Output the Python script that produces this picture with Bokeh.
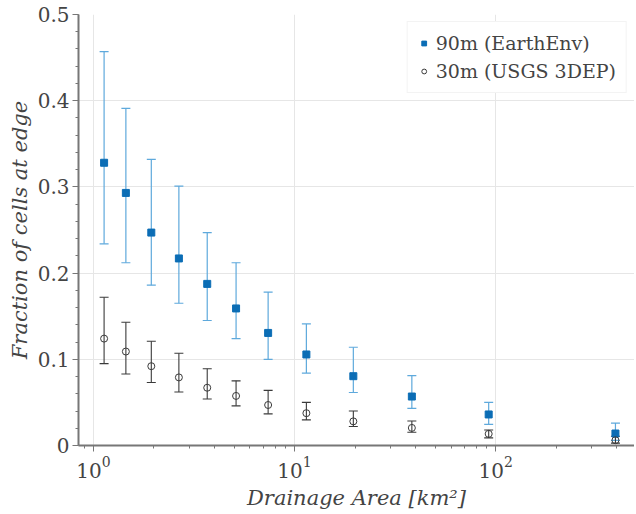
from bokeh.plotting import figure
from bokeh.models import (ColumnDataSource, Whisker, TeeHead, Range1d, SingleIntervalTicker,
                          Legend, LegendItem)
from bokeh.embed import file_html
from bokeh.resources import INLINE

# ---- data ----
area = [1.13, 1.45, 1.94, 2.66, 3.68, 5.12, 7.39, 11.45, 19.6, 38.3, 92.3, 394.0]

frac_90 = [0.328, 0.293, 0.247, 0.217, 0.1875, 0.159, 0.1306, 0.1056, 0.0804, 0.0568, 0.036, 0.0139]
up_90 = [0.457, 0.391, 0.332, 0.301, 0.247, 0.212, 0.178, 0.141, 0.114, 0.081, 0.050, 0.026]
lo_90 = [0.234, 0.212, 0.186, 0.165, 0.145, 0.124, 0.100, 0.084, 0.0615, 0.043, 0.0244, 0.006]

frac_30 = [0.124, 0.109, 0.092, 0.079, 0.067, 0.0575, 0.047, 0.0375, 0.028, 0.0204, 0.0135, 0.0061]
up_30 = [0.172, 0.143, 0.121, 0.107, 0.089, 0.075, 0.064, 0.050, 0.040, 0.0285, 0.018, 0.0108]
lo_30 = [0.095, 0.083, 0.073, 0.062, 0.054, 0.046, 0.0367, 0.0297, 0.022, 0.0154, 0.0088, 0.0027]

labels = ["90m (EarthEnv)", "30m (USGS 3DEP)"]
x_title = "Drainage Area [km²]"
y_title = "Fraction of cells at edge"

FONT = "DejaVu Serif"
TXT = "#444444"
AX = "#777777"

p = figure(x_axis_type="log", output_backend="svg", toolbar_location=None,
           frame_width=556, frame_height=431,
           x_range=Range1d(0.843, 490), y_range=Range1d(0, 0.5),
           min_border_left=78, min_border_top=14, min_border_right=0, min_border_bottom=60)
p.outline_line_color = None
p.background_fill_color = "white"

src90 = ColumnDataSource(dict(x=area, y=frac_90, upper=up_90, lower=lo_90))
src30 = ColumnDataSource(dict(x=area, y=frac_30, upper=up_30, lower=lo_30))

blue_err = "#5ea9dc"
w90 = Whisker(source=src90, base="x", upper="upper", lower="lower",
              line_color=blue_err, line_width=1.2,
              upper_head=TeeHead(size=9, line_color=blue_err, line_width=1.2),
              lower_head=TeeHead(size=9, line_color=blue_err, line_width=1.2))
w30 = Whisker(source=src30, base="x", upper="upper", lower="lower",
              line_color="#3a3a3a", line_width=1.1,
              upper_head=TeeHead(size=9, line_color="#3a3a3a", line_width=1.1),
              lower_head=TeeHead(size=9, line_color="#3a3a3a", line_width=1.1))
p.add_layout(w90)
p.add_layout(w30)

r90 = p.scatter("x", "y", source=src90, marker="square", size=7,
                fill_color="#0b6db5", line_color="#0b6db5")
r30 = p.scatter("x", "y", source=src30, marker="circle", size=7,
                fill_color=None, line_color="#3a3a3a", line_width=1)

# axes
for ax in (p.xaxis[0], p.yaxis[0]):
    ax.axis_line_color = AX
    ax.axis_line_width = 2
    ax.major_tick_line_color = AX
    ax.minor_tick_line_color = AX
    ax.major_tick_out = 6
    ax.major_tick_in = 0
    ax.minor_tick_out = 3
    ax.minor_tick_in = 0
    ax.major_label_text_font = FONT
    ax.major_label_text_font_size = "20px"
    ax.major_label_text_color = TXT
    ax.axis_label_text_font = FONT
    ax.axis_label_text_font_size = "21px"
    ax.axis_label_text_font_style = "italic"
    ax.axis_label_text_color = TXT

p.yaxis[0].ticker = SingleIntervalTicker(interval=0.1, num_minor_ticks=5)
p.yaxis[0].major_label_standoff = 3
p.yaxis[0].axis_label = y_title
p.yaxis[0].axis_label_standoff = 3
p.xaxis[0].axis_label = x_title
p.xaxis[0].major_label_standoff = 4
p.xaxis[0].axis_label_standoff = 5

p.ygrid.grid_line_color = "#e6e6e6"
p.xgrid.grid_line_color = "#e6e6e6"

legend = Legend(items=[LegendItem(label=labels[0], renderers=[r90]),
                       LegendItem(label=labels[1], renderers=[r30])],
                location="top_right")
legend.label_text_font = FONT
legend.label_text_font_size = "19px"
legend.label_text_color = TXT
legend.label_height = 22
legend.border_line_color = "#e8e8e8"
legend.background_fill_alpha = 1
legend.glyph_width = 12
legend.glyph_height = 18
legend.label_standoff = 6
legend.spacing = 6
legend.padding = 10
legend.margin = 7
p.add_layout(legend)

open("out.html", "w").write(file_html(p, INLINE))
